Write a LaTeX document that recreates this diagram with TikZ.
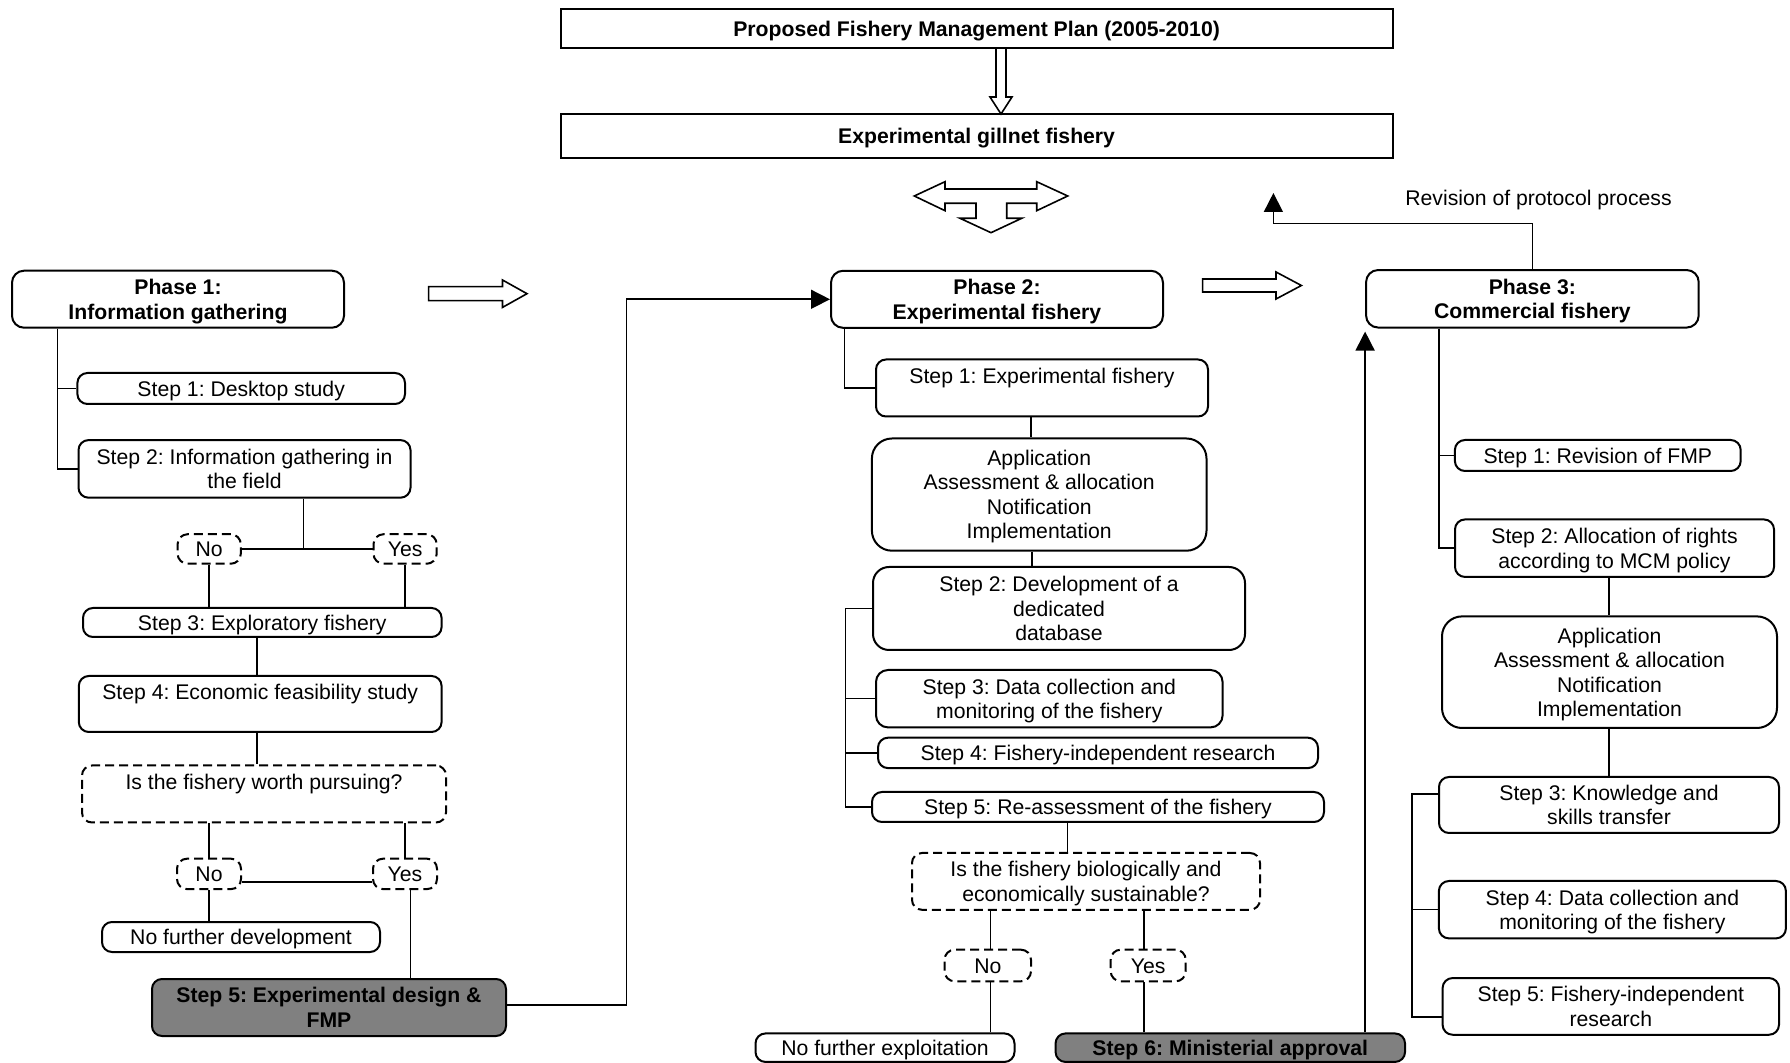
\documentclass[tikz,border=0pt]{standalone}
\usepackage{fontspec}
\setmainfont{Liberation Sans}
\frenchspacing
\usetikzlibrary{arrows.meta}

\begin{document}
\begin{tikzpicture}[%
        x=0.5pt, y=-0.5pt,%
        boxsize/.style 2 args={minimum width=#1pt, minimum height=#2pt},%
        twolines/.style={text height=19.85pt},%
        threelines/.style={text height=32.1pt},%
        fourlines/.style={text height=44.35pt},%
        stepbox/.style={%
            rectangle,%
            rounded corners=5pt,%
            draw=black,%
            line width=1pt,%
            inner sep=0pt,%
            align=center,%
            text height=7.6pt,%
            text depth=0pt,%
            font=\fontsize{10.6}{12.25}\selectfont%
        },%
        listbox/.style={stepbox, rounded corners=10pt, fourlines},%
        phasebox/.style={stepbox, rounded corners=6pt, twolines, font=\fontsize{10.6}{12.25}\selectfont\bfseries},%
        planbox/.style={stepbox, sharp corners, font=\fontsize{10.6}{12.25}\selectfont\bfseries},%
        keybox/.style={stepbox, fill=black!50, font=\fontsize{10.6}{12.25}\selectfont\bfseries},%
        choice/.style={stepbox, dash pattern=on 4.5pt off 2.5pt},%
        link/.style={line width=0.8pt},%
        goes/.style={link, -{Triangle[length=9.5pt,width=9.5pt]}},%
        hollow/.style={draw=black, line width=0.8pt, fill=white, line join=miter}%
    ]
    \useasboundingbox (0,0) rectangle (1790,1063);

    \node (plan)    at ( 976.6,  28.5) [planbox, boxsize={416}{19.5}]{Proposed Fishery Management Plan (2005-2010)};
    \node (gillnet) at ( 976.6, 136.2) [planbox, boxsize={416}{22.25}]{Experimental gillnet fishery};
    \draw [hollow] (996,48) -- (1006,48) -- (1006,97) -- (1012,97) -- (1001,114) -- (990,97) -- (996,97) -- cycle;
    \draw [hollow] (914.3,196) -- (945,181.7) -- (945,189) -- (1036.7,189) -- (1036.7,181.7) -- (1067.7,196)
        -- (1036.7,210.7) -- (1036.7,203.3) -- (1006.7,203.3) -- (1006.7,218.3) -- (1021.7,218.3) -- (991,232.7)
        -- (960,218.3) -- (976,218.3) -- (976,203.3) -- (945,203.3) -- (945,210.7) -- cycle;

    % phase 1
    \node (p1)  at ( 178.0, 299.2) [phasebox, boxsize={166}{28.5}]{Phase 1:\\Information gathering};
    \node (s1a) at ( 241.2, 388.5) [stepbox, boxsize={163.8}{15.5}]{Step 1: Desktop study};
    \node (s2a) at ( 244.5, 468.9) [stepbox, twolines, boxsize={166}{28.8}]{Step 2: Information gathering in\\the field};
    \node (yn1) at ( 209.2, 549.0) [choice, boxsize={31.6}{14.75}]{No};
    \node (yy1) at ( 405.1, 549.0) [choice, boxsize={31.6}{14.75}]{Yes};
    \node (s3a) at ( 262.3, 622.5) [stepbox, boxsize={179.3}{14.5}]{Step 3: Exploratory fishery};
    \node (s4a) at ( 260.2, 704.0) [stepbox, twolines, boxsize={181.4}{28}]{Step 4: Economic feasibility study\\\strut};
    \node (q1)  at ( 264.0, 794.0) [choice, twolines, boxsize={182}{28.5}]{Is the fishery worth pursuing?\\\strut};
    \node (yn2) at ( 209.0, 873.9) [choice, boxsize={32}{15.2}]{No};
    \node (yy2) at ( 405.0, 873.9) [choice, boxsize={32}{15.2}]{Yes};
    \node (nfd) at ( 241.0, 937.0) [stepbox, boxsize={139}{15}]{No further development};
    \node (s5a) at ( 329.0,1007.5) [keybox, twolines, boxsize={177}{28.5}]{Step 5: Experimental design \&\\FMP};
    \draw [hollow] (428.6,286.7) -- (502.5,286.7) -- (502.5,280) -- (527,293.7) -- (502.5,307.4) -- (502.5,300.7) -- (428.6,300.7) -- cycle;

    \draw [link] (57.4,0 |- p1.south) |- (s1a);
    \draw [link] (57.4,0 |- p1.south) |- (s2a);
    \draw [link] (303.5,0 |- s2a.south) -- (303.5,0 |- yn1.east);
    \draw [link] (yn1) -- (yy1);
    \draw [link] (yn1) -- (yn1 |- s3a.north);
    \draw [link] (yy1) -- (yy1 |- s3a.north);
    \draw [link] (257,0 |- s3a.south) -- (257,0 |- s4a.north);
    \draw [link] (257,0 |- s4a.south) -- (257,0 |- q1.north);
    \draw [link] (yn2 |- q1.south) -- (yn2);
    \draw [link] (yy2 |- q1.south) -- (yy2);
    \draw [link] ([yshift=-4.2pt]yn2.east) -- ([yshift=-4.2pt]yy2.west);
    \draw [link] (yn2) -- (yn2 |- nfd.north);
    \draw [link] (410.6,0 |- yy2.south) -- (410.6,0 |- s5a.north);

    % phase 2
    \node (p2)   at ( 997.0, 299.3) [phasebox, boxsize={166}{28.5}]{Phase 2:\\Experimental fishery};
    \node (s1b)  at (1042.0, 388.0) [stepbox, twolines, boxsize={166}{28.5}]{Step 1: Experimental fishery\\\strut};
    \node (app2) at (1039.2, 494.6) [listbox, boxsize={167.3}{56.1}]{Application\\Assessment \& allocation\\Notification\\Implementation};
    \node (s2b)  at (1059.0, 608.5) [stepbox, threelines, rounded corners=8pt, boxsize={186}{41.5}]{Step 2: Development of a\\dedicated\\database};
    \node (s3b)  at (1049.3, 698.7) [stepbox, twolines, rounded corners=6pt, boxsize={173.3}{28.7}]{Step 3: Data collection and\\monitoring of the fishery};
    \node (s4b)  at (1098.0, 752.9) [stepbox, boxsize={220}{15.2}]{Step 4: Fishery-independent research};
    \node (s5b)  at (1098.0, 807.0) [stepbox, boxsize={226}{15}]{Step 5: Re-assessment of the fishery};
    \node (q2)   at (1086.0, 881.4) [choice, twolines, boxsize={174}{28.4}]{Is the fishery biologically and\\economically sustainable?};
    \node (yn3)  at ( 987.8, 965.5) [choice, boxsize={43.2}{15.8}]{No};
    \node (yy3)  at (1148.2, 965.5) [choice, boxsize={37.5}{15.8}]{Yes};
    \node (nfe)  at ( 885.0,1047.7) [stepbox, boxsize={129.5}{14.25}]{No further exploitation};
    \node (s6)   at (1230.3,1047.7) [keybox, boxsize={174.75}{14.25}]{Step 6: Ministerial approval};
    \draw [hollow] (1202.6,279) -- (1276,279) -- (1276,272) -- (1301.4,285.5) -- (1276,299) -- (1276,292) -- (1202.6,292) -- cycle;

    \coordinate (bend1) at (626.4, 299.3);
    \draw [goes] ([yshift=1.4pt]s5a.east) -| (bend1) -- (p2.west);
    \draw [link] (844.4,0 |- p2.south) |- (s1b);
    \draw [link] (1031,0 |- s1b.south) -- (1031,0 |- app2.north);
    \draw [link] (1032,0 |- app2.south) -- (1032,0 |- s2b.north);
    \coordinate (brk2) at (845.4, 807);
    \draw [link] (s2b.west) -| (brk2) -- (s5b.west);
    \draw [link] (brk2 |- s3b.west) -- (s3b.west);
    \draw [link] (brk2 |- s4b.west) -- (s4b.west);
    \draw [link] (1067.4,0 |- s5b.south) -- (1067.4,0 |- q2.north);
    \draw [link] (990.6,0 |- q2.south) -- (990.6,0 |- yn3.north);
    \draw [link] (1144,0 |- q2.south) -- (1144,0 |- yy3.north);
    \draw [link] (990.6,0 |- yn3.south) -- (990.6,0 |- nfe.north);
    \draw [link] (1144,0 |- yy3.south) -- (1144,0 |- s6.north);

    % phase 3
    \node (p3)   at (1532.4, 298.8) [phasebox, boxsize={166.3}{28.75}]{Phase 3:\\Commercial fishery};
    \node (s1c)  at (1597.8, 455.5) [stepbox, boxsize={142.9}{15.5}]{Step 1: Revision of FMP};
    \node (s2c)  at (1614.5, 548.2) [stepbox, twolines, boxsize={159.5}{28.75}]{Step 2: Allocation of rights\\according to MCM policy};
    \node (app3) at (1609.5, 672.2) [listbox, boxsize={167.5}{55.8}]{Application\\Assessment \& allocation\\Notification\\Implementation};
    \node (s3c)  at (1609.0, 805.0) [stepbox, twolines, boxsize={170}{28}]{Step 3: Knowledge and\\skills transfer};
    \node (s4c)  at (1612.4, 909.7) [stepbox, twolines, boxsize={173.5}{28.7}]{Step 4: Data collection and\\monitoring of the fishery};
    \node (s5c)  at (1610.8,1006.4) [stepbox, twolines, boxsize={168.2}{28.35}]{Step 5: Fishery-independent\\research};
    \node (revision) at (1538.5, 199.7) [font=\fontsize{10.6}{12.25}\selectfont]{Revision of protocol process};

    \draw [goes, shorten >=1.5pt] (p3.south west |- s6.north) -- (p3.south west);
    \draw [link] (1438.8,0 |- p3.south) |- (s1c);
    \draw [link] (1438.8,0 |- p3.south) |- (s2c);
    \draw [link] (1609,0 |- s2c.south) -- (1609,0 |- app3.north);
    \draw [link] (1609,0 |- app3.south) -- (1609,0 |- s3c.north);
    \coordinate (brk3) at (1411.9, 1017);
    \draw [link] ([yshift=5.6pt]s3c.west) -| (brk3) -- ([yshift=-5.3pt]s5c.west);
    \draw [link] (brk3 |- s4c.west) -- (s4c.west);
    \coordinate (revtip) at (1273.4, 193);
    \draw [goes] (p3.north) -- (p3.north |- 0,223.4) -| (revtip);
\end{tikzpicture}
\end{document}
